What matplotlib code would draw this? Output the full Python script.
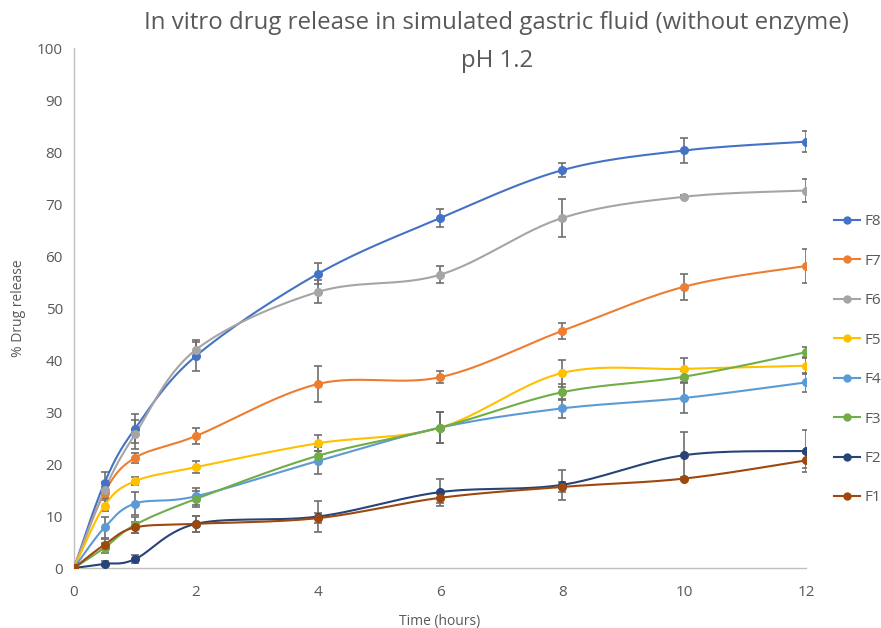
import numpy as np
import matplotlib
matplotlib.use("Agg")
import matplotlib.pyplot as plt

time_h = [0, 0.5, 1, 2, 4, 6, 8, 10, 12]
series_names = ["F8", "F7", "F6", "F5", "F4", "F3", "F2", "F1"]
series_colors = ["#4472C4", "#ED7D31", "#A5A5A5", "#FFC000", "#5B9BD5", "#70AD47", "#264478", "#9E480E"]

F8 = [0, 16.4, 26.8, 40.8, 56.6, 67.3, 76.5, 80.3, 82.0]
F7 = [0, 14.5, 21.2, 25.4, 35.4, 36.7, 45.6, 54.1, 58.1]
F6 = [0, 15.0, 25.7, 42.0, 53.1, 56.4, 67.3, 71.4, 72.6]
F5 = [0, 12.0, 16.7, 19.4, 24.0, 27.0, 37.5, 38.3, 38.9]
F4 = [0, 7.8, 12.4, 13.8, 20.6, 27.0, 30.7, 32.7, 35.7]
F3 = [0, 3.9, 8.3, 13.3, 21.6, 27.0, 33.8, 36.8, 41.5]
F2 = [0, 0.8, 1.7, 8.5, 9.9, 14.6, 16.0, 21.7, 22.5]
F1 = [0, 4.5, 7.8, 8.5, 9.6, 13.5, 15.6, 17.2, 20.7]

F8_err = [0, 2.0, 2.8, 3.0, 2.0, 1.8, 1.3, 2.4, 2.0]
F7_err = [0, 1.0, 1.0, 1.5, 3.5, 1.1, 1.5, 2.5, 3.3]
F6_err = [0, 1.5, 2.8, 1.5, 2.2, 1.6, 3.6, 0.3, 2.2]
F5_err = [0, 1.0, 0.8, 1.2, 1.5, 3.0, 2.6, 2.0, 1.5]
F4_err = [0, 2.0, 2.2, 1.6, 2.6, 3.0, 1.8, 2.8, 1.9]
F3_err = [0, 1.0, 1.5, 1.5, 1.0, 3.0, 1.5, 1.0, 1.0]
F2_err = [0, 0.5, 0.8, 1.5, 2.9, 2.6, 2.9, 4.5, 4.0]
F1_err = [0, 1.0, 1.0, 1.5, 1.0, 1.0, 1.0, 0.3, 1.5]

series_vals = [F8, F7, F6, F5, F4, F3, F2, F1]
series_errs = [F8_err, F7_err, F6_err, F5_err, F4_err, F3_err, F2_err, F1_err]


def smooth(x, y, n=30):
    x = np.asarray(x, float)
    y = np.asarray(y, float)
    xs, ys = [], []
    N = len(x)
    for i in range(N - 1):
        p0 = (x[i - 1], y[i - 1]) if i > 0 else (x[i], y[i])
        p1 = (x[i], y[i])
        p2 = (x[i + 1], y[i + 1])
        p3 = (x[i + 2], y[i + 2]) if i + 2 < N else (x[i + 1], y[i + 1])
        c1 = (p1[0] + (p2[0] - p0[0]) / 6, p1[1] + (p2[1] - p0[1]) / 6)
        c2 = (p2[0] - (p3[0] - p1[0]) / 6, p2[1] - (p3[1] - p1[1]) / 6)
        t = np.linspace(0, 1, n)
        bx = (1 - t) ** 3 * p1[0] + 3 * (1 - t) ** 2 * t * c1[0] + 3 * (1 - t) * t ** 2 * c2[0] + t ** 3 * p2[0]
        by = (1 - t) ** 3 * p1[1] + 3 * (1 - t) ** 2 * t * c1[1] + 3 * (1 - t) * t ** 2 * c2[1] + t ** 3 * p2[1]
        xs.extend(bx)
        ys.extend(by)
    return np.array(xs), np.array(ys)


plt.rcParams['font.family'] = ['Open Sans', 'DejaVu Sans']
fig = plt.figure(figsize=(8.81, 6.28), dpi=100)
ax = fig.add_axes([0.084, 0.0955, 0.831, 0.828])

grey = "#595959"
handles = []
for name, col, vals, errs in zip(series_names, series_colors, series_vals, series_errs):
    sx, sy = smooth(time_h, vals)
    ax.errorbar(time_h, vals, yerr=errs, fmt='none', ecolor="#6e6e6e", elinewidth=1.2,
                capsize=3, capthick=1.2, zorder=2)
    ax.plot(sx, sy, color=col, lw=1.5, zorder=3)
    ax.plot(time_h, vals, 'o', color=col, ms=5.5, zorder=4)
    h, = ax.plot([], [], '-o', color=col, lw=1.5, ms=5, label=name)
    handles.append(h)

ax.set_xlim(0, 12)
ax.set_ylim(0, 100)
ax.set_xticks(range(0, 13, 2))
ax.set_yticks(range(0, 101, 10))
for s in ['top', 'right']:
    ax.spines[s].set_visible(False)
for s in ['left', 'bottom']:
    ax.spines[s].set_color("#bfbfbf")
    ax.spines[s].set_linewidth(1.0)
ax.tick_params(axis='both', length=0, labelsize=11, colors=grey, pad=8)
ax.tick_params(axis='x', pad=12)

ax.set_xlabel("Time (hours)", fontsize=10, color=grey, labelpad=10)
ax.set_ylabel("% Drug release", fontsize=10, color=grey, labelpad=8)

fig.text(0.564, 0.963, "In vitro drug release in simulated gastric fluid (without enzyme)",
         ha='center', va='center', fontsize=17.3, color=grey)
fig.text(0.564, 0.903, "pH 1.2", ha='center', va='center', fontsize=17.3, color=grey)

leg = fig.legend(handles=handles, loc='center left', bbox_to_anchor=(0.94, 0.427),
                 frameon=False, fontsize=11, labelspacing=1.6, handlelength=1.7,
                 handletextpad=0.3, borderaxespad=0)
for t in leg.get_texts():
    t.set_color(grey)

fig.savefig("out.png", dpi=100)
